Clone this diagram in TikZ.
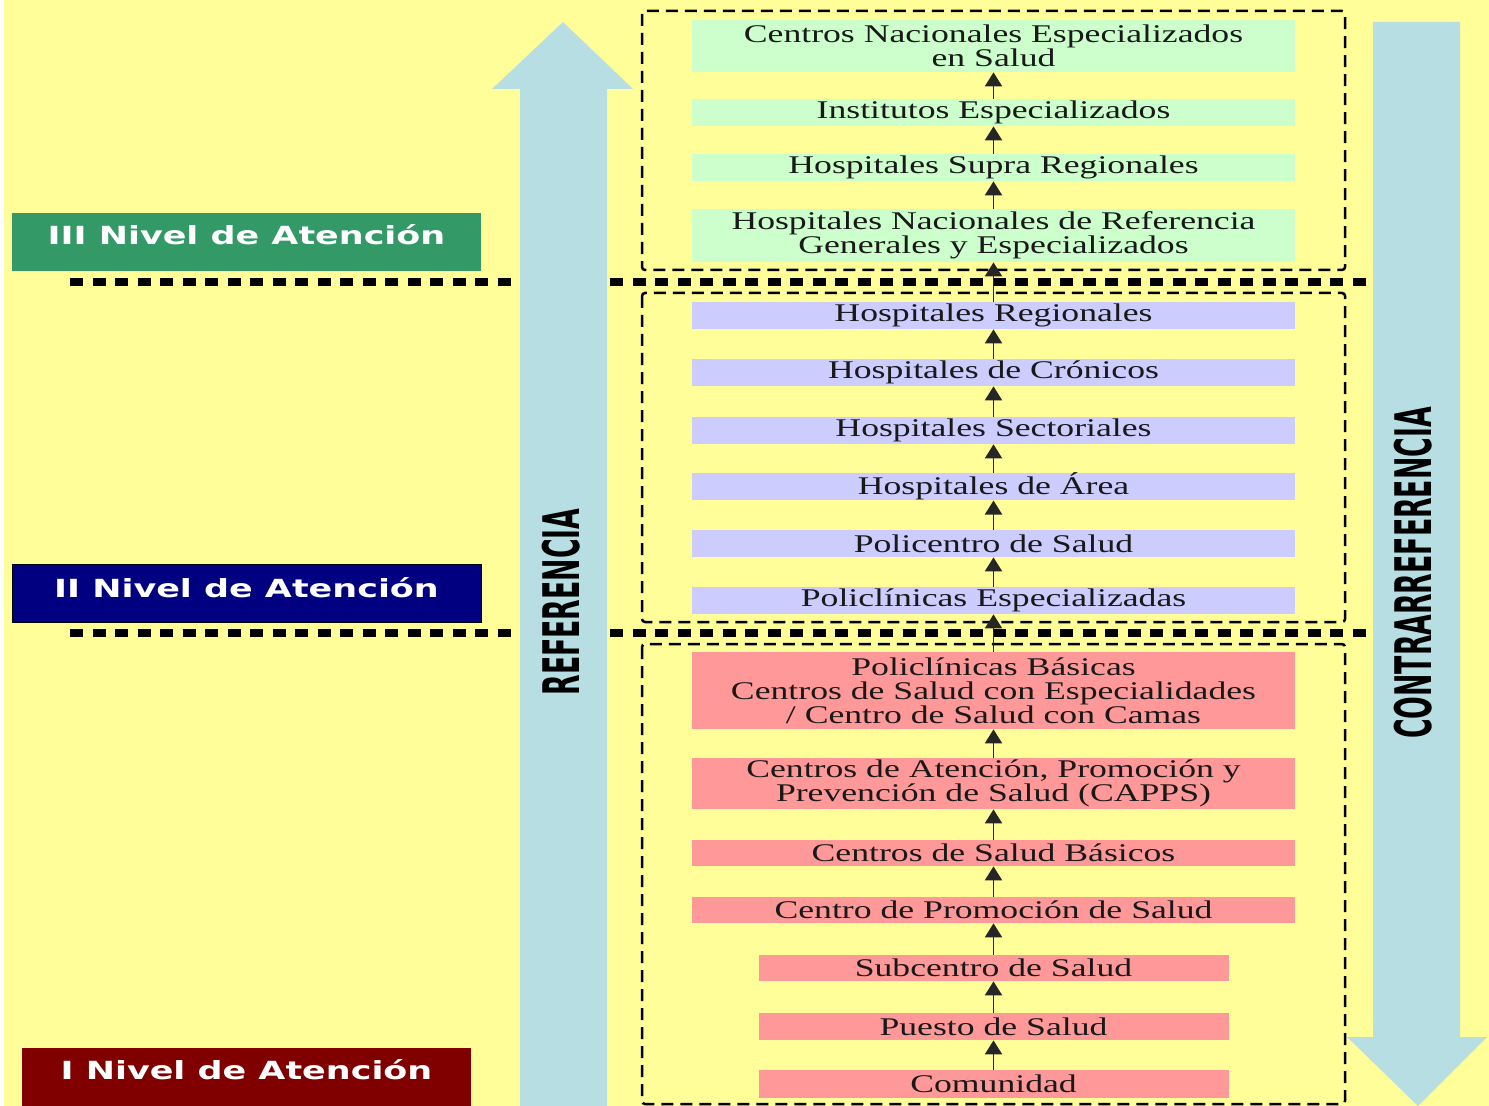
\documentclass[tikz,border=0pt]{standalone}
\usepackage{fontspec}
\usepackage{xcolor}
\usepackage{tikz}
\usetikzlibrary{arrows.meta}
\newfontfamily\rowfont[FakeStretch=1.4]{Liberation Serif}
\newfontfamily\levelfont[FakeStretch=1.4]{DejaVu Sans}
\newfontfamily\sidefont[FakeStretch=0.53]{DejaVu Sans}
\definecolor{fondo}{HTML}{FFFE99}
\definecolor{celeste}{HTML}{B7DFE3}
\definecolor{verdeclaro}{HTML}{CCFFCC}
\definecolor{lila}{HTML}{CCCCFF}
\definecolor{rosa}{HTML}{FF9999}
\definecolor{verdenivel}{HTML}{339966}
\definecolor{azulnivel}{HTML}{000080}
\definecolor{rojonivel}{HTML}{800000}

\begin{document}
\begin{tikzpicture}[
  x=0.2mm, y=-0.2mm,
  >=Stealth,
  fila/.style={rectangle,inner sep=0pt,minimum width=120.6mm,minimum height=5.4mm,align=center,
    font=\rowfont\fontsize{14.5}{13.66}\selectfont,text=black!90},
  f3/.style={fila,fill=verdeclaro},
  f2/.style={fila,fill=lila},
  f1/.style={fila,fill=rosa},
  corta/.style={minimum width=94mm},
  nivel/.style={rectangle,inner sep=0pt,minimum width=93.8mm,minimum height=11.6mm,
    font=\levelfont\bfseries\fontsize{14.2}{16}\selectfont,text=white},
  sube/.style={->,line width=1.1pt,draw=black!85,>={Triangle[width=3.4mm,length=2.8mm]}},
  grupo/.style={line width=0.5mm,dash pattern=on 2.4mm off 1.4mm,rounded corners=0.6mm},
  corte/.style={line width=1.6mm,dash pattern=on 2.6mm off 1.9mm},
  lado/.style={rotate=90,font=\sidefont\bfseries\fontsize{28.7}{30}\selectfont}
]
  \useasboundingbox (0,0) rectangle (1489,1106);
  \fill[white] (0,0) rectangle (1489,1106);
  \fill[fondo] (4,0) rectangle (1489,1106);

  % cortes entre niveles
  \draw[corte] (70,282) -- (1465,282);
  \draw[corte] (70,633) -- (1465,633);

  % flechas grandes
  \fill[celeste] (520,1106) -- (520,89) -- (492,89) -- (563,22) -- (633,89)
    -- (607,89) -- (607,1106) -- cycle;
  \fill[celeste] (1373,22) -- (1460,22) -- (1460,1037) -- (1487,1037)
    -- (1418,1106) -- (1347,1037) -- (1373,1037) -- cycle;
  \node[lado] (referencia) at (561,602) {REFERENCIA};
  \node[lado] (contra) at (1413,573) {CONTRARREFERENCIA};

  % marcos de cada nivel
  \draw[grupo] (642,11) rectangle (1345,270);
  \draw[grupo] (642,293) rectangle (1345,622);
  \draw[grupo] (642,644) rectangle (1345,1104);

  % niveles
  \node[nivel,fill=verdenivel] (nivel3) at (246.5,242) {\raisebox{3mm}{III Nivel de Atención}};
  \node[nivel,fill=azulnivel,draw=black,thin] (nivel2) at (246.5,593) {\raisebox{2.2mm}{II Nivel de Atención}};
  \node[nivel,fill=rojonivel,minimum width=89.8mm] (nivel1) at (246.5,1077) {\raisebox{3mm}{I Nivel de Atención}};

  % III nivel
  \node[f3,minimum height=10.4mm] (cnes) at (993.5,46) {Centros Nacionales Especializados\\en Salud};
  \node[f3] (inst) at (993.5,112.5) {Institutos Especializados};
  \node[f3] (hsupra) at (993.5,167.5) {Hospitales Supra Regionales};
  \node[f3,minimum height=10.6mm] (hnac) at (993.5,235.5) {Hospitales Nacionales de Referencia\\Generales y Especializados};
  % II nivel
  \node[f2] (hreg) at (993.5,315.5) {Hospitales Regionales};
  \node[f2] (hcron) at (993.5,372.5) {Hospitales de Crónicos};
  \node[f2] (hsect) at (993.5,430.5) {Hospitales Sectoriales};
  \node[f2] (harea) at (993.5,486.5) {Hospitales de Área};
  \node[f2] (policentro) at (993.5,543.5) {Policentro de Salud};
  \node[f2] (polesp) at (993.5,600.5) {Policlínicas Especializadas};
  % I nivel
  \node[f1,minimum height=15.4mm] (polbas) at (993.5,690.5) {Policlínicas Básicas\\Centros de Salud con Especialidades\\/ Centro de Salud con Camas};
  \node[f1,minimum height=10.2mm] (capps) at (993.5,783.5) {Centros de Atención, Promoción y\\Prevención de Salud (CAPPS)};
  \node[f1,minimum height=5.2mm] (csbas) at (993.5,853) {Centros de Salud Básicos};
  \node[f1,minimum height=5.2mm] (cprom) at (993.5,910) {Centro de Promoción de Salud};
  \node[f1,corta,minimum height=5.2mm] (subcentro) at (993.5,968) {Subcentro de Salud};
  \node[f1,corta] (puesto) at (993.5,1026.5) {Puesto de Salud};
  \node[f1,corta,minimum height=5.6mm] (comunidad) at (993.5,1084) {Comunidad};

  % referencia hacia arriba
  \draw[sube] (inst.north) -- (cnes.south);
  \draw[sube] (hsupra.north) -- (inst.south);
  \draw[sube] (hnac.north) -- (hsupra.south);
  \draw[sube] (hreg.north) -- (hnac.south);
  \draw[sube] (hcron.north) -- (hreg.south);
  \draw[sube] (hsect.north) -- (hcron.south);
  \draw[sube] (harea.north) -- (hsect.south);
  \draw[sube] (policentro.north) -- (harea.south);
  \draw[sube] (polesp.north) -- (policentro.south);
  \draw[sube] (polbas.north) -- (polesp.south);
  \draw[sube] (capps.north) -- (polbas.south);
  \draw[sube] (csbas.north) -- (capps.south);
  \draw[sube] (cprom.north) -- (csbas.south);
  \draw[sube] (subcentro.north) -- (cprom.south);
  \draw[sube] (puesto.north) -- (subcentro.south);
  \draw[sube] (comunidad.north) -- (puesto.south);
\end{tikzpicture}
\end{document}
